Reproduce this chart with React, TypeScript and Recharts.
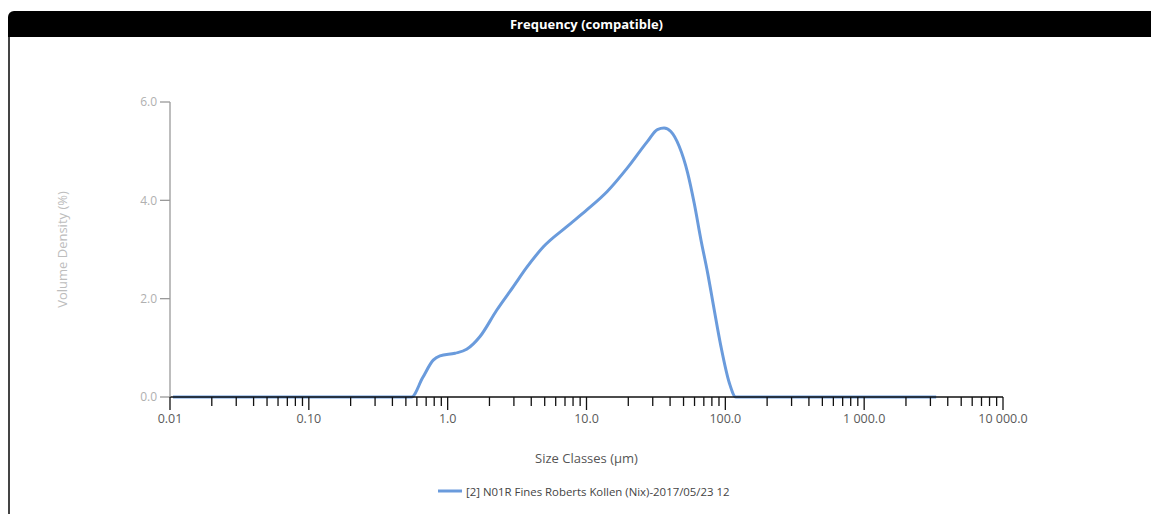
import React from 'react';
import { LineChart, Line, XAxis, YAxis, Legend } from 'recharts';

// Particle size classes (µm) and the measured volume density (%) at each
const sizeClasses = [
  0.0105, 0.549, 0.66, 0.787, 0.88, 1.13, 1.37, 1.71, 2.26, 2.98, 3.72,
  4.91, 7.25, 10.1, 14.1, 19.7, 27.5, 32.4, 36.2, 40.5, 46.5,
  53.5, 59.7, 66.7, 74.6, 83.2, 93.1, 107, 119, 3300,
];
const volumeDensity = [
  0, 0, 0.39, 0.75, 0.835, 0.89, 0.97, 1.23, 1.77, 2.25, 2.64,
  3.06, 3.47, 3.81, 4.18, 4.66, 5.2, 5.44, 5.47, 5.4, 5.1,
  4.56, 3.94, 3.2, 2.52, 1.77, 1.02, 0.28, 0, 0,
];

// Axis ticks
const sizeDecades = [0.01, 0.1, 1, 10, 100, 1000, 10000];
const sizeTickLabels = ['0.01', '0.10', '1.0', '10.0', '100.0', '1 000.0', '10 000.0'];
const densityTicks = [0, 2, 4, 6];

const seriesName = '[2] N01R Fines Roberts Kollen (Nix)-2017/05/23 12';
const chartTitle = 'Frequency (compatible)';

const FONT = '"Open Sans", "Noto Sans", sans-serif';
const LINE_COLOR = '#6a9bdc';

const chartData = sizeClasses.map((size, i) => ({ size, density: volumeDensity[i] }));

// major decade ticks plus 2..9 minor ticks inside each decade
const sizeTicks: number[] = [];
sizeDecades.forEach((d, i) => {
  sizeTicks.push(d);
  if (i < sizeDecades.length - 1) {
    for (let m = 2; m <= 9; m++) sizeTicks.push(+(d * m).toPrecision(6));
  }
});

const SizeTick = (props: any) => {
  const { x, y, payload } = props;
  const v = payload.value as number;
  const lg = Math.log10(v);
  const major = Math.abs(lg - Math.round(lg)) < 1e-6;
  const idx = Math.round(lg) + 2;
  return (
    <g>
      <line x1={x} x2={x} y1={y} y2={y + (major ? 13 : 9)} stroke="#111" strokeWidth={1.3} />
      {major && (
        <text x={x} y={y + 26} textAnchor="middle" fill="#5a5a5a" fontSize={12.5} fontFamily={FONT}>
          {sizeTickLabels[idx]}
        </text>
      )}
    </g>
  );
};

const DensityLabel = (props: any) => {
  const { viewBox } = props;
  const cx = viewBox.x + 2;
  const cy = viewBox.y + viewBox.height / 2;
  return (
    <text
      x={cx}
      y={cy}
      transform={`rotate(-90, ${cx}, ${cy})`}
      textAnchor="middle"
      dominantBaseline="central"
      fill="#bdbdbd"
      fontSize={13}
      fontFamily={FONT}
    >
      Volume Density (%)
    </text>
  );
};

const LegendContent = () => (
  <div
    style={{
      display: 'flex',
      alignItems: 'center',
      paddingLeft: 438,
      fontFamily: FONT,
      fontSize: 11.4,
      color: '#444',
      height: 20,
    }}
  >
    <svg width={24} height={6} style={{ marginRight: 4 }}>
      <line x1={0} x2={24} y1={3} y2={3} stroke={LINE_COLOR} strokeWidth={3} />
    </svg>
    <span>{seriesName}</span>
  </div>
);

export default function App() {
  return (
    <div
      style={{
        position: 'relative',
        width: 1151,
        height: 514,
        overflow: 'hidden',
        background: '#fff',
        fontFamily: FONT,
      }}
    >
      <style>{`body{margin:0}`}</style>
      <div
        style={{
          position: 'absolute',
          left: 8,
          top: 11,
          width: 1157,
          height: 26,
          background: '#000',
          borderTopLeftRadius: 6,
          color: '#fff',
          fontWeight: 700,
          fontSize: 13,
          lineHeight: '26px',
          textAlign: 'center',
          fontFamily: FONT,
        }}
      >
        {chartTitle}
      </div>
      <div
        style={{
          position: 'absolute',
          left: 8,
          top: 37,
          width: 1.5,
          height: 477,
          background: '#444',
        }}
      />
      <div style={{ position: 'absolute', left: 0, top: 0 }}>
        <LineChart
          width={1151}
          height={514}
          data={chartData}
          margin={{ top: 102, right: 148, left: 60, bottom: 13 }}
        >
          <XAxis
            dataKey="size"
            type="number"
            scale="log"
            domain={[0.01, 10000]}
            allowDataOverflow
            ticks={sizeTicks}
            interval={0}
            tick={<SizeTick />}
            tickLine={false}
            tickSize={0}
            tickMargin={0}
            axisLine={{ stroke: '#111', strokeWidth: 1.3 }}
            height={84}
            label={{
              value: 'Size Classes (µm)',
              position: 'insideBottom',
              offset: 18,
              fill: '#555',
              fontSize: 13,
              fontFamily: FONT,
            }}
          />
          <YAxis
            type="number"
            domain={[0, 6]}
            ticks={densityTicks}
            width={110}
            tickFormatter={(v: number) => v.toFixed(1)}
            tickSize={10}
            tickMargin={3}
            axisLine={{ stroke: '#9a9a9a', strokeWidth: 1.3 }}
            tickLine={{ stroke: '#9a9a9a', strokeWidth: 1.3 }}
            tick={{ fill: '#b0b0b0', fontSize: 12, fontFamily: FONT }}
            label={<DensityLabel />}
          />
          <Legend
            verticalAlign="bottom"
            height={20}
            content={<LegendContent />}
            wrapperStyle={{ left: 0, width: 1151, bottom: 13 }}
          />
          <Line
            type="monotone"
            dataKey="density"
            name={seriesName}
            stroke={LINE_COLOR}
            strokeWidth={3}
            dot={false}
            isAnimationActive={false}
          />
        </LineChart>
      </div>
    </div>
  );
}
